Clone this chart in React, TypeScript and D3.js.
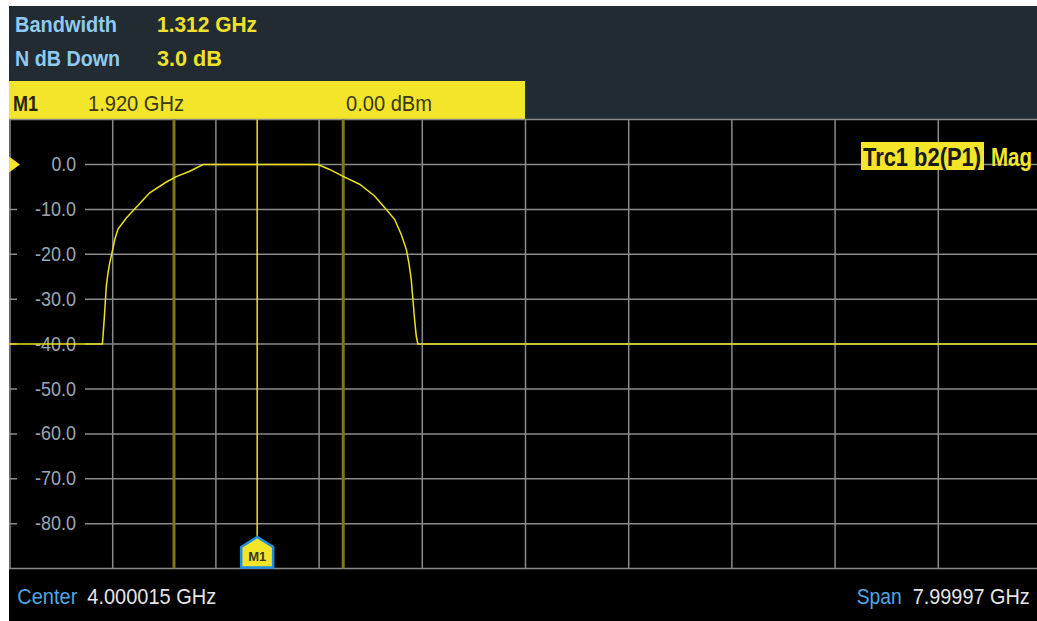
import React from "react";
import * as d3 from "d3";

// ---- data ----
const traceFreqGHz = [0.00003, 0.72, 0.725, 0.735, 0.743, 0.751, 0.764, 0.777, 0.792, 0.816, 0.841, 0.906, 0.97, 1.087, 1.216, 1.293, 1.397, 1.5, 2.391, 2.481, 2.598, 2.714, 2.83, 2.921, 2.985, 3.037, 3.076, 3.096, 3.114, 3.127, 3.14, 3.153, 3.166, 7.99997];
const traceDb = [-40, -40, -38.2, -34.1, -30.4, -27.0, -24.1, -21.9, -20, -16.7, -14.4, -11.9, -9.9, -6.3, -3.9, -2.7, -1.5, 0, 0, -1.1, -2.8, -4.4, -7.0, -10, -12.2, -15.6, -18.9, -21.9, -25.6, -30, -34.4, -38.2, -40, -40];
const yTickValues = [0, -10, -20, -30, -40, -50, -60, -70, -80];
const yTickLabels = ["0.0", "-10.0", "-20.0", "-30.0", "-40.0", "-50.0", "-60.0", "-70.0", "-80.0"];
const xGridGHz = [0.8, 1.6, 2.4, 3.2, 4.0, 4.8, 5.6, 6.4, 7.2];
const bandwidthEdgesGHz = [1.275, 2.587];
const markerFreqGHz = 1.92;
const refLevelDb = 0;
const headerLabels = ["Bandwidth", "N dB Down"];
const headerValues = ["1.312 GHz", "3.0 dB"];
const markerRow = ["M1", "1.920 GHz", "0.00 dBm"];
const footer = ["Center", "4.000015 GHz", "Span", "7.99997 GHz"];
const traceLabel = ["Trc1 b2(P1)", "Mag"];

const W = 1037;
const H = 621;
const FONT = "'Liberation Sans Narrow', 'Liberation Sans', Arial, sans-serif";

type TProps = {
  x: number;
  y: number;
  len: number;
  size: number;
  fill: string;
  bold?: boolean;
  anchor?: "start" | "end" | "middle";
  sy?: number;
  children: string;
};

// text squeezed to a measured width and stretched a bit vertically (narrow font look)
function NText({ x, y, len, size, fill, bold, anchor = "start", sy = 1.12, children }: TProps) {
  return (
    <text
      transform={`translate(${x},${y}) scale(1,${sy})`}
      textAnchor={anchor}
      fontFamily={FONT}
      fontWeight={bold ? "bold" : "normal"}
      fontSize={size}
      fill={fill}
      textLength={len}
      lengthAdjust="spacingAndGlyphs"
    >
      {children}
    </text>
  );
}

export default function App() {
  const left = 9.5;
  const top = 119.6;
  const bottom = 568.6;
  const x = d3.scaleLinear().domain([0, 8]).range([left, left + 10 * 103.2]);
  const y = d3.scaleLinear().domain([10, -90]).range([top, bottom]);
  const pts = traceFreqGHz.map((f, i) => [f, traceDb[i]] as [number, number]);
  const line = d3
    .line<[number, number]>()
    .x((d) => x(d[0]))
    .y((d) => y(d[1]));
  const yellow = "#f2e52a";
  const traceYellow = "#ece21e";
  const grid = "#8a8a8a";
  const mx = x(markerFreqGHz);
  const flagTop = 537;

  return (
    <div style={{ position: "absolute", left: 0, top: 0, width: W, height: H, overflow: "hidden", background: "#fff" }}>
      <svg width={W} height={H} style={{ display: "block" }}>
        {/* header */}
        <rect x={9} y={6} width={W - 9} height={top - 6} fill="#222a32" />
        <rect x={9} y={81} width={516} height={top - 81} fill={yellow} />
        {/* plot */}
        <rect x={9} y={top} width={W - 9} height={bottom - top} fill="#000" />
        <rect x={9} y={bottom} width={W - 9} height={H - bottom} fill="#000" />

        {/* grid */}
        <g stroke={grid} strokeWidth={1.5}>
          {d3.range(10, -91, -10).map((v) => (
            <line key={"h" + v} x1={9} x2={W} y1={y(v)} y2={y(v)} />
          ))}
          {xGridGHz.map((f) => (
            <line key={"v" + f} x1={x(f)} x2={x(f)} y1={top} y2={bottom} />
          ))}
          <line x1={10} x2={10} y1={top} y2={bottom} />
        </g>

        {/* y labels */}
        {yTickValues.map((v, i) => (
          <g key={"yl" + v}>
            <rect x={17} y={y(v) - 10} width={68} height={20} fill="#000" />
            <NText x={76} y={y(v) + 6.5} len={yTickLabels[i].length * 8.2} size={18} fill="#9aa6b4" anchor="end">
              {yTickLabels[i]}
            </NText>
          </g>
        ))}

        {/* bandwidth edge lines */}
        {bandwidthEdgesGHz.map((f) => (
          <line key={"bw" + f} x1={x(f)} x2={x(f)} y1={top} y2={bottom} stroke="#7f7617" strokeWidth={3} />
        ))}

        {/* marker line */}
        <line x1={mx} x2={mx} y1={top} y2={flagTop} stroke={traceYellow} strokeWidth={1.5} />

        {/* trace */}
        <path d={line(pts) || ""} fill="none" stroke={traceYellow} strokeWidth={1.5} />

        {/* marker flag */}
        <path
          d={`M${mx - 16},${flagTop + 10} L${mx},${flagTop} L${mx + 16},${flagTop + 10} L${mx + 16},${bottom - 1} L${mx - 16},${bottom - 1} Z`}
          fill={yellow}
          stroke="#1f8ee0"
          strokeWidth={2.5}
          strokeLinejoin="miter"
        />
        <text x={mx} y={561} textAnchor="middle" fontFamily={FONT} fontWeight="bold" fontSize={13} fill="#3a3820">
          M1
        </text>

        {/* reference level triangle */}
        <path d={`M9,${y(refLevelDb) - 8} L20,${y(refLevelDb)} L9,${y(refLevelDb) + 8} Z`} fill={yellow} />

        {/* trace label */}
        <rect x={861} y={142} width={123} height={28} fill={yellow} />
        <NText x={863} y={166} len={118} size={21} sy={1.2} bold fill="#1a1a1a">
          {traceLabel[0]}
        </NText>
        <NText x={991} y={166} len={41} size={21} sy={1.2} bold fill={yellow}>
          {traceLabel[1]}
        </NText>

        {/* header texts */}
        <NText x={15} y={31.5} len={102} size={19} bold fill="#8fcaf0">
          {headerLabels[0]}
        </NText>
        <NText x={157} y={31.5} len={100} size={19} bold fill="#efe22c">
          {headerValues[0]}
        </NText>
        <NText x={15} y={66} len={105} size={19} bold fill="#8fcaf0">
          {headerLabels[1]}
        </NText>
        <NText x={157} y={66} len={65} size={19} bold fill="#efe22c">
          {headerValues[1]}
        </NText>

        {/* marker row */}
        <NText x={13} y={110.5} len={25} size={20} bold fill="#262410">
          {markerRow[0]}
        </NText>
        <NText x={88} y={110.5} len={96} size={20} fill="#3a3818">
          {markerRow[1]}
        </NText>
        <NText x={346} y={110.5} len={86} size={20} fill="#3a3818">
          {markerRow[2]}
        </NText>

        {/* footer */}
        <NText x={17.3} y={603.5} len={60} size={19} fill="#4ea6e0">
          {footer[0]}
        </NText>
        <NText x={87.3} y={603.5} len={129} size={19} fill="#e4e4e4">
          {footer[1]}
        </NText>
        <NText x={856.7} y={603.5} len={45} size={19} fill="#4ea6e0">
          {footer[2]}
        </NText>
        <NText x={912.7} y={603.5} len={117} size={19} fill="#e4e4e4">
          {footer[3]}
        </NText>
      </svg>
    </div>
  );
}
